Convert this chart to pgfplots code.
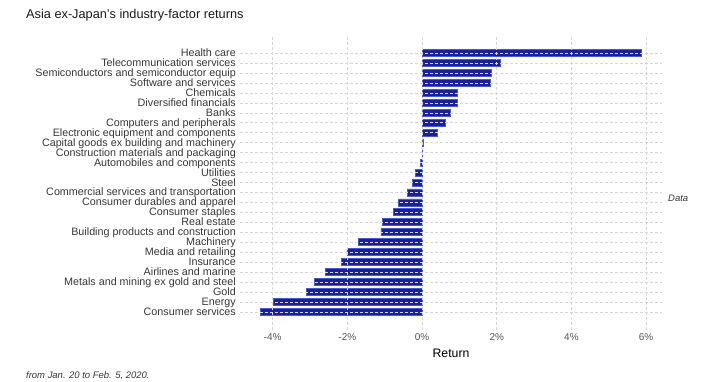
\documentclass[border=0pt]{standalone}
\usepackage{pgfplots}
\pgfplotsset{compat=1.18}
\usepackage{fontspec}
\setmainfont{Liberation Sans}
\definecolor{barfill}{RGB}{28,32,150}
\definecolor{barline}{RGB}{72,92,210}
\definecolor{gridc}{RGB}{214,214,216}
\definecolor{labc}{RGB}{55,55,55}
\definecolor{tickc}{RGB}{85,85,85}
\begin{document}
\begin{tikzpicture}[x=1bp,y=1bp]
\path[use as bounding box] (0,0) rectangle (709,381);
\node[anchor=west,font=\fontsize{12.8}{14}\selectfont,text={rgb,255:red,25;green,25;blue,25},inner sep=0pt] at (26,366) {Asia ex-Japan’s industry-factor returns};
\begin{axis}[
  at={(240bp,51bp)}, anchor=south west,
  scale only axis, width=422bp, height=295bp,
  xmin=-4.873, xmax=6.426,
  ymin=-1.81, ymax=27.81,
  xbar, bar width=7bp,
  axis on top,
  axis line style={draw=none},
  major tick length=0pt,
  xtick={-4,-2,0,2,4,6},
  xticklabels={-4\%,-2\%,0\%,2\%,4\%,6\%},
  ytick={0,...,26},
  yticklabels={Consumer services,Energy,Gold,Metals and mining ex gold and steel,Airlines and marine,Insurance,Media and retailing,Machinery,Building products and construction,Real estate,Consumer staples,Consumer durables and apparel,Commercial services and transportation,Steel,Utilities,Automobiles and components,Construction materials and packaging,Capital goods ex building and machinery,Electronic equipment and components,Computers and peripherals,Banks,Diversified financials,Chemicals,Software and services,Semiconductors and semiconductor equip,Telecommunication services,Health care},
  yticklabel style={font=\fontsize{10.8}{11}\selectfont, text=labc, inner sep=0pt, text height=6.5bp, text depth=1.5bp, xshift=-4bp, yshift=-1bp, anchor=east},
  xticklabel style={font=\fontsize{10}{11}\selectfont, text=tickc, inner sep=0pt, yshift=-3bp, anchor=north},
  xmajorgrids, ymajorgrids,
  major grid style={draw=gridc, line width=0.5bp, dash pattern=on 3bp off 2bp},
  xlabel={Return},
  xlabel style={font=\fontsize{12.3}{13}\selectfont, text=black, inner sep=0pt, at={(axis description cs:0.5,0)}, anchor=center, yshift=-23bp},
]
\addplot[fill=barfill, draw=barline, line width=0.8bp] coordinates {
(-4.33,0) (-3.98,1) (-3.10,2) (-2.89,3) (-2.59,4) (-2.15,5) (-2.01,6) (-1.71,7) (-1.10,8) (-1.05,9) (-0.77,10) (-0.62,11) (-0.39,12) (-0.26,13) (-0.17,14) (-0.05,15) (0.01,16) (0.03,17) (0.40,18) (0.63,19) (0.76,20) (0.94,21) (0.95,22) (1.84,23) (1.85,24) (2.10,25) (5.87,26)
};
\end{axis}
\node[anchor=west,font=\itshape\fontsize{9.5}{10}\selectfont,text=labc,inner sep=0pt] at (668,183) {Data};
\node[anchor=west,font=\itshape\fontsize{9.5}{10}\selectfont,text=labc,inner sep=0pt] at (26,5) {from Jan. 20 to Feb. 5, 2020.};
\end{tikzpicture}
\end{document}
